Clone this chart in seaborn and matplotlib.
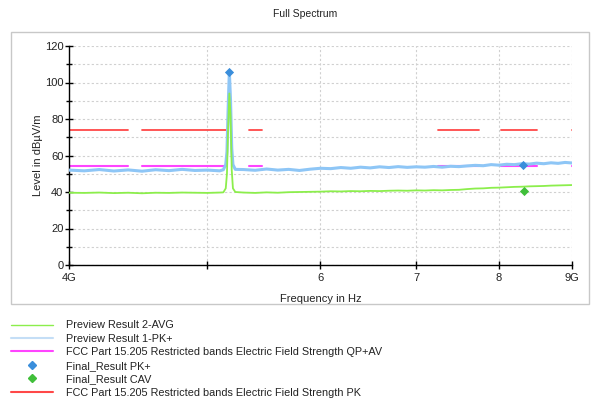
import numpy as np
import pandas as pd
import matplotlib
matplotlib.use("Agg")
import matplotlib.pyplot as plt
import matplotlib.ticker as mticker
from matplotlib.lines import Line2D
from matplotlib.patches import Rectangle
import seaborn as sns

# ---------------- data (GHz / dBuV/m) ----------------
trace_freq = [4.0, 4.1, 4.2, 4.3, 4.4, 4.5, 4.6, 4.7, 4.8, 4.9, 5.0, 5.1, 5.13,
              5.15, 5.16, 5.17, 5.18, 5.19, 5.20, 5.21, 5.23,
              5.3, 5.4, 5.5, 5.6, 5.7, 5.8, 5.9, 6.0, 6.1, 6.2, 6.3, 6.4, 6.5,
              6.6, 6.7, 6.8, 6.9, 7.0, 7.1, 7.2, 7.3, 7.4, 7.5, 7.6, 7.7, 7.8,
              7.9, 8.0, 8.1, 8.2, 8.3, 8.4, 8.5, 8.6, 8.7, 8.8, 8.9, 9.0]
pk_trace = [52.0, 51.6, 52.3, 51.5, 52.1, 51.4, 52.2, 51.7, 52.4, 51.8, 52.0, 51.6, 52.2,
            55.0, 62.0, 86.0, 106.0, 90.0, 64.0, 55.0, 52.4,
            52.3, 51.9, 52.6, 52.0, 52.4, 51.8, 52.5, 53.0, 52.8, 53.4, 53.0, 53.6, 53.2,
            53.8, 53.4, 53.9, 53.5, 53.8, 53.6, 54.0, 53.6, 54.1, 53.9, 54.3, 54.6, 54.4,
            55.0, 54.7, 55.2, 55.0, 55.5, 55.3, 55.8, 55.5, 56.0, 55.7, 56.2, 55.9]
avg_trace = [39.6, 39.5, 39.7, 39.4, 39.6, 39.3, 39.6, 39.5, 39.7, 39.6, 39.5, 39.7, 39.8,
             42.0, 50.0, 76.0, 94.0, 82.0, 52.0, 42.0, 40.0,
             39.7, 39.5, 39.8, 39.6, 39.9, 40.0, 40.1, 40.2, 40.4, 40.3, 40.5, 40.4, 40.6,
             40.5, 40.7, 40.8, 40.7, 40.9, 40.8, 41.0, 40.9, 41.1, 41.2, 41.6, 41.9, 42.0,
             42.3, 42.4, 42.6, 42.8, 42.9, 43.1, 43.2, 43.3, 43.5, 43.6, 43.7, 43.8]

band_start = [4.0, 4.5, 5.35, 7.25, 8.025, 9.0]
band_stop = [4.4, 5.15, 5.46, 7.75, 8.5, 9.2]
limit_pk = 74.0
limit_av = 54.0

final_pk_freq = [5.18, 8.32]
final_pk_level = [106.0, 54.6]
final_cav_freq = [8.33]
final_cav_level = [40.8]

xtick_vals = [4, 5, 6, 7, 8, 9]
xtick_labels = ["4G", "", "6", "7", "8", "9G"]

# ---------------- build tables ----------------
G = 1e9
df_pk = pd.DataFrame({"f": np.array(trace_freq) * G, "lvl": pk_trace})
df_av = pd.DataFrame({"f": np.array(trace_freq) * G, "lvl": avg_trace})
lim_rows = []
for i, (a, b) in enumerate(zip(band_start, band_stop)):
    lim_rows.append({"band": i, "f": a * G, "pk": limit_pk, "av": limit_av})
    lim_rows.append({"band": i, "f": b * G, "pk": limit_pk, "av": limit_av})
df_lim = pd.DataFrame(lim_rows)
df_fpk = pd.DataFrame({"f": np.array(final_pk_freq) * G, "lvl": final_pk_level})
df_fcav = pd.DataFrame({"f": np.array(final_cav_freq) * G, "lvl": final_cav_level})

# ---------------- style ----------------
sns.set_theme(style="white")
plt.rcParams["font.family"] = ["Liberation Sans", "DejaVu Sans"]
plt.rcParams["font.size"] = 8

C_BLUE = "#8ec6f6"
C_GREEN = "#8cee4c"
C_RED = "#ff4848"
C_MAG = "#ff44ff"
C_MPK = "#3a8edb"
C_MCAV = "#40bf3a"

fig = plt.figure(figsize=(5.92, 4.03), dpi=100)
fig.patch.set_facecolor("white")

# outer frame
fig.patches.append(Rectangle((11 / 592, 1 - 304 / 403), 578 / 592, 272 / 403,
                             transform=fig.transFigure, fill=False,
                             edgecolor="#c8c8c8", linewidth=1.0, zorder=0))

ax = fig.add_axes([69 / 592, 1 - 265 / 403, 503 / 592, 219 / 403])
ax.set_xscale("log")

sns.lineplot(data=df_pk, x="f", y="lvl", ax=ax, color=C_BLUE, linewidth=2.2,
             estimator=None, legend=False, zorder=3)
sns.lineplot(data=df_av, x="f", y="lvl", ax=ax, color=C_GREEN, linewidth=1.3,
             estimator=None, legend=False, zorder=4)
sns.lineplot(data=df_lim, x="f", y="av", units="band", ax=ax, color=C_MAG,
             linewidth=1.5, estimator=None, legend=False, zorder=2)
sns.lineplot(data=df_lim, x="f", y="pk", units="band", ax=ax, color=C_RED,
             linewidth=1.3, estimator=None, legend=False, zorder=2)
sns.scatterplot(data=df_fpk, x="f", y="lvl", ax=ax, color=C_MPK, marker="D",
                s=22, linewidth=0, legend=False, zorder=6)
sns.scatterplot(data=df_fcav, x="f", y="lvl", ax=ax, color=C_MCAV, marker="D",
                s=22, linewidth=0, legend=False, zorder=6)

ax.set_xlim(4 * G, 9 * G)
ax.set_ylim(0, 120)
ax.xaxis.set_major_locator(mticker.FixedLocator([v * G for v in xtick_vals]))
ax.xaxis.set_major_formatter(mticker.FixedFormatter(xtick_labels))
ax.xaxis.set_minor_locator(mticker.NullLocator())
ax.yaxis.set_major_locator(mticker.MultipleLocator(20))
ax.yaxis.set_minor_locator(mticker.MultipleLocator(10))

ax.grid(True, which="major", axis="x", color="#d0d0d0", linestyle=(0, (2, 2)), linewidth=0.8)
ax.grid(True, which="both", axis="y", color="#d0d0d0", linestyle=(0, (2, 2)), linewidth=0.8)
ax.set_axisbelow(True)

for s in ["top", "right"]:
    ax.spines[s].set_visible(False)
for s in ["left", "bottom"]:
    ax.spines[s].set_color("black")
    ax.spines[s].set_linewidth(1.0)

ax.tick_params(axis="both", which="major", direction="inout", length=6, width=1,
               color="black", labelsize=8, labelcolor="#222222", left=True, bottom=True)
ax.tick_params(axis="y", which="minor", direction="inout", length=4, width=1,
               color="black", left=True)
ax.tick_params(axis="x", pad=3)
ax.tick_params(axis="y", pad=1)

ax.set_xlabel("Frequency in Hz", fontsize=8, color="#222222", labelpad=8)
ax.set_ylabel("Level in dBµV/m", fontsize=8, color="#222222", labelpad=1)

fig.text(0.515, 1 - 14 / 403, "Full Spectrum", ha="center", va="center",
         fontsize=7.5, color="#222222")

handles = [
    Line2D([], [], color=C_GREEN, linewidth=1.0),
    Line2D([], [], color="#c4def6", linewidth=1.5),
    Line2D([], [], color=C_MAG, linewidth=1.5),
    Line2D([], [], color=C_MPK, marker="D", markersize=4, linestyle="none"),
    Line2D([], [], color=C_MCAV, marker="D", markersize=4, linestyle="none"),
    Line2D([], [], color=C_RED, linewidth=1.5),
]
labels = [
    "Preview Result 2-AVG",
    "Preview Result 1-PK+",
    "FCC Part 15.205 Restricted bands Electric Field Strength QP+AV",
    "Final_Result PK+",
    "Final_Result CAV",
    "FCC Part 15.205 Restricted bands Electric Field Strength PK",
]
leg = fig.legend(handles, labels, loc="upper left",
                 bbox_to_anchor=(7 / 592, 1 - 316 / 403), frameon=False,
                 fontsize=7.8, handlelength=3.8, handletextpad=1.2,
                 labelspacing=0.32, borderaxespad=0, borderpad=0.4)
for t in leg.get_texts():
    t.set_color("#222222")

fig.savefig("out.png", dpi=100, facecolor="white")
